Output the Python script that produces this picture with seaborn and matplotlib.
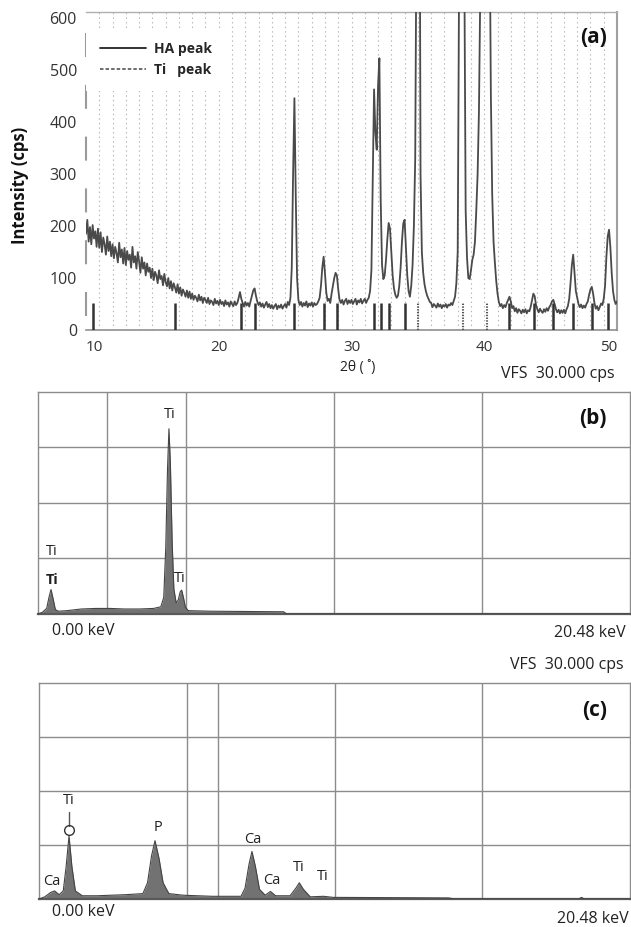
import numpy as np
import pandas as pd
import seaborn as sns
import matplotlib.pyplot as plt
from matplotlib.lines import Line2D

# ---------------- (a) XRD pattern, 2theta = 10.0 ... 50.0 deg, 0.1 deg steps
two_theta = np.round(np.arange(100, 501) / 10, 1)
intensity = [
    185, 212, 170, 198, 165, 202, 176, 190, 160, 195,   # 10
    158, 188, 150, 178, 165, 145, 180, 152, 170, 142,   # 11
    165, 138, 160, 148, 130, 168, 140, 155, 128, 158,   # 12
    125, 152, 135, 145, 120, 160, 130, 142, 118, 150,   # 13
    132, 110, 140, 118, 130, 105, 128, 112, 120, 100,   # 14
    118, 96, 112, 105, 90, 115, 98, 104, 86, 108,       # 15
    92, 84, 100, 80, 94, 76, 90, 82, 72, 88,            # 16
    70, 82, 66, 78, 72, 64, 76, 62, 74, 60,             # 17
    70, 58, 66, 62, 55, 68, 57, 64, 52, 62,             # 18
    58, 52, 62, 50, 57, 54, 48, 60, 51, 56,             # 19
    48, 58, 50, 54, 46, 57, 49, 53, 45, 55,             # 20
    50, 46, 55, 48, 52, 62, 73, 60, 52, 45,             # 21
    54, 47, 52, 45, 56, 66, 76, 80, 66, 55,             # 22
    48, 53, 45, 51, 43, 49, 54, 44, 50, 42,             # 23
    48, 41, 46, 50, 40, 47, 43, 49, 41, 46,             # 24
    50, 43, 54, 48, 62, 120, 300, 446, 260, 100,        # 25
    58, 48, 54, 45, 52, 47, 55, 44, 51, 47,             # 26
    53, 45, 52, 48, 50, 55, 62, 85, 120, 141,           # 27
    110, 72, 56, 60, 52, 70, 85, 100, 110, 105,         # 28
    78, 58, 52, 58, 49, 56, 60, 50, 57, 52,             # 29
    58, 50, 55, 60, 49, 57, 53, 60, 51, 56,             # 30
    60, 52, 58, 62, 75, 115, 290, 463, 380, 347,        # 31
    470, 523, 250, 125, 98, 105, 135, 175, 206, 195,    # 32
    150, 105, 80, 68, 62, 66, 85, 120, 170, 205,        # 33
    212, 160, 105, 75, 64, 85, 125, 200, 330, 800,      # 34
    1500, 1200, 300, 150, 110, 88, 75, 66, 60, 54,      # 35
    52, 44, 50, 47, 43, 51, 45, 49, 42, 48,             # 36
    45, 50, 43, 49, 47, 52, 48, 56, 64, 90,             # 37
    150, 650, 1300, 1500, 1200, 700, 230, 140, 100, 98,  # 38
    115, 135, 145, 170, 230, 300, 420, 650, 1000, 1300,  # 39
    1500, 1550, 1450, 1200, 800, 450, 260, 170, 130, 95,  # 40
    70, 54, 46, 50, 42, 48, 44, 52, 58, 64,             # 41
    55, 42, 46, 36, 42, 33, 40, 37, 32, 39,             # 42
    34, 40, 32, 38, 36, 45, 58, 70, 65, 48,             # 43
    40, 34, 41, 36, 33, 40, 35, 42, 37, 44,             # 44
    48, 55, 58, 50, 40, 34, 39, 32, 38, 33,             # 45
    39, 32, 40, 46, 60, 90, 125, 145, 110, 75,          # 46
    62, 50, 44, 49, 42, 47, 43, 50, 55, 68,             # 47
    78, 83, 70, 52, 41, 46, 38, 44, 51, 48,             # 48
    60, 85, 140, 180, 193, 160, 110, 75, 58, 50,        # 49
    55,                                                 # 50
]
ha_peaks = [10.5, 16.7, 21.65, 22.7, 25.7, 27.9, 28.9, 31.7, 32.2, 32.85,
            34.0, 41.9, 43.75, 45.2, 46.7, 48.1, 49.3]
ti_peaks = [35.0, 38.4, 40.2]
stick_height = 52
xrd_ticks = [10, 20, 30, 40, 50]
cps_ticks = [0, 100, 200, 300, 400, 500, 600]

# ---------------- (b) EDS of the Ti substrate, 0 ... 20.48 keV
b_energy = [0.0, 0.15, 0.3, 0.38, 0.45, 0.52, 0.6, 0.7, 1.0, 1.5,
            2.0, 2.5, 3.0, 3.5, 4.0, 4.25, 4.35, 4.42, 4.48, 4.53,
            4.58, 4.64, 4.7, 4.78, 4.85, 4.92, 4.97, 5.03, 5.1, 5.2,
            6.0, 8.5, 8.6, 20.48]
b_counts = [0.0, 0.03, 0.1, 0.3, 0.44, 0.28, 0.08, 0.05, 0.06, 0.09,
            0.1, 0.1, 0.09, 0.09, 0.1, 0.13, 0.3, 1.2, 2.6, 3.33,
            2.7, 1.3, 0.45, 0.2, 0.25, 0.4, 0.43, 0.3, 0.12, 0.06,
            0.05, 0.04, 0.0, 0.0]
b_labels = [("Ti", 0.48, 1.12, "normal"), ("Ti", 0.48, 0.61, "bold"),
            ("Ti", 4.57, 3.59, "normal"), ("Ti", 4.91, 0.63, "normal")]

# ---------------- (c) EDS of the HA coating
c_energy = [0.0, 0.1, 0.2, 0.27, 0.35, 0.42, 0.47, 0.52, 0.57, 0.63,
            0.75, 1.0, 1.5, 1.8, 1.88, 1.95, 2.01, 2.08, 2.15, 2.25,
            2.5, 3.0, 3.5, 3.57, 3.64, 3.69, 3.75, 3.82, 3.92, 4.01,
            4.1, 4.35, 4.45, 4.51, 4.58, 4.7, 4.93, 5.1, 7.1, 7.2,
            9.35, 9.4, 9.45, 10.24]
c_counts = [0.0, 0.04, 0.12, 0.15, 0.08, 0.15, 0.6, 1.17, 0.6, 0.15,
            0.06, 0.06, 0.08, 0.1, 0.3, 0.8, 1.08, 0.75, 0.3, 0.1,
            0.07, 0.05, 0.05, 0.2, 0.65, 0.88, 0.6, 0.18, 0.07, 0.14,
            0.06, 0.06, 0.2, 0.3, 0.18, 0.04, 0.05, 0.03, 0.02, 0.0,
            0.0, 0.03, 0.0, 0.0]
c_labels = [("Ca", 0.22, 0.32), ("Ti", 0.52, 1.82), ("P", 2.06, 1.32),
            ("Ca", 3.70, 1.11), ("Ca", 4.03, 0.34), ("Ti", 4.50, 0.58),
            ("Ti", 4.92, 0.41)]

sns.set_theme(style="white")
plt.rcParams["font.family"] = ["Open Sans", "DejaVu Sans"]
plt.rcParams["lines.scale_dashes"] = False

W, H = 631, 927
fig = plt.figure(figsize=(W / 100, H / 100), dpi=100)


def box(l, t, r, b):
    return [l / W, 1 - b / H, (r - l) / W, (b - t) / H]


def pos(x, y):
    return x / W, 1 - y / H


# ---------------- panel (a)
ax_a = fig.add_axes(box(86, 12, 617, 330))
for g in range(11, 50):
    ax_a.axvline(g, color="#b5b5b5", lw=0.8, ls=(0, (1, 2.3)), zorder=0)

xrd = pd.DataFrame({"two_theta": two_theta, "intensity": intensity})
sns.lineplot(data=xrd, x="two_theta", y="intensity", ax=ax_a,
             color="#4a4a4a", lw=1.3, zorder=3)
ax_a.vlines(ha_peaks, 0, stick_height, colors="#333333", lw=1.8, zorder=4)
ax_a.vlines(ti_peaks, 0, stick_height, colors="#555555", lw=1.5,
            linestyles=[(0, (1, 1))], zorder=4)

ax_a.set_xlim(10, 50)
ax_a.set_ylim(0, 612)
ax_a.set_xlabel("")
ax_a.set_ylabel("")
ax_a.set_yticks(cps_ticks)
ax_a.set_xticks(xrd_ticks)
xlabels = ax_a.set_xticklabels([str(t) for t in xrd_ticks])
xlabels[0].set_ha("left")
xlabels[-1].set_ha("right")
ax_a.tick_params(axis="y", length=2, width=1.5, color="#9a9a9a",
                 labelsize=11.5, labelcolor="#333333", pad=4.5)
ax_a.tick_params(axis="x", length=0, labelsize=11, labelcolor="#333333", pad=7)

ax_a.spines["top"].set_color("#b0b0b0")
ax_a.spines["top"].set_linewidth(1.0)
ax_a.spines["right"].set_color("#a0a0a0")
ax_a.spines["right"].set_linewidth(1.5)
ax_a.spines["bottom"].set_color("#909090")
ax_a.spines["bottom"].set_linewidth(1.2)
ax_a.spines["left"].set_color("#9a9a9a")
ax_a.spines["left"].set_linewidth(1.5)
ax_a.spines["left"].set_linestyle((26.5, (15.8, 21.5)))

handles = [Line2D([], [], color="#222222", lw=1.3),
           Line2D([], [], color="#444444", lw=1.1, ls=(0, (2.5, 1.5)))]
leg = ax_a.legend(handles, ["HA peak", "Ti   peak"], loc="upper left",
                  bbox_to_anchor=(0.0, 0.95), borderaxespad=0,
                  frameon=True, facecolor="white", edgecolor="none",
                  framealpha=1, fancybox=False,
                  prop={"weight": "bold", "size": 10},
                  handlelength=3.3, handletextpad=0.6, borderpad=1.0,
                  labelspacing=0.5)
leg.set_zorder(5)

ax_a.text(0.981, 0.921, "(a)", transform=ax_a.transAxes, ha="right",
          va="center", fontsize=15, fontweight="bold", color="#111111")
fig.text(*pos(20, 185), "Intensity (cps)", rotation=90, ha="center",
         va="center", fontsize=12, fontweight="bold", color="#111111")
fig.text(*pos(358, 367), "2θ ( ˚)", ha="center", va="center",
         fontsize=10, color="#222222")
fig.text(*pos(615, 374), "VFS  30.000 cps", ha="right", va="center",
         fontsize=11.5, color="#222222")


# ---------------- EDS panels
def eds_panel(ax, energy, counts, emax, extra_line):
    spec = pd.DataFrame({"energy": energy, "counts": counts})
    ax.fill_between(spec["energy"], 0, spec["counts"], color="#727272",
                    lw=0, zorder=2)
    sns.lineplot(data=spec, x="energy", y="counts", ax=ax, color="#444444",
                 lw=0.8, zorder=3)
    for k in (1, 2, 3):
        ax.axvline(emax * k / 4, color="#8c8c8c", lw=1.0, zorder=1)
        ax.axhline(k, color="#8c8c8c", lw=1.0, zorder=1)
    ax.axvline(extra_line, color="#8c8c8c", lw=1.0, zorder=1)
    ax.set_xlim(0, emax)
    ax.set_ylim(0, 4)
    ax.set_xticks([])
    ax.set_yticks([])
    ax.set_xlabel("")
    ax.set_ylabel("")
    for s in ("top", "left", "right"):
        ax.spines[s].set_color("#8c8c8c")
        ax.spines[s].set_linewidth(1.0)
    ax.spines["bottom"].set_color("#5a5a5a")
    ax.spines["bottom"].set_linewidth(1.6)


ax_b = fig.add_axes(box(38, 391.5, 630, 614))
eds_panel(ax_b, b_energy, b_counts, 20.48, 2.38)
for txt, x, y, w in b_labels:
    ax_b.text(x, y, txt, ha="center", va="center", fontsize=10.5,
              fontweight=w, color="#222222", zorder=5)
fig.text(*pos(607, 418), "(b)", ha="right", va="center", fontsize=15,
         fontweight="bold", color="#111111")
fig.text(*pos(52, 631), "0.00 keV", ha="left", va="center", fontsize=11.5,
         color="#222222")
fig.text(*pos(626, 633), "20.48 keV", ha="right", va="center",
         fontsize=11.5, color="#222222")

ax_c = fig.add_axes(box(39, 683, 630, 899))
eds_panel(ax_c, c_energy, c_counts, 10.24, 3.1)
for txt, x, y in c_labels:
    ax_c.text(x, y, txt, ha="center", va="center", fontsize=10.5,
              color="#222222", zorder=5)
ax_c.plot([0.52, 0.52], [1.36, 1.62], color="#555555", lw=1.0, zorder=5)
ax_c.plot([0.52], [1.27], marker="o", mfc="none", mec="#333333", ms=7,
          mew=1.0, zorder=5)
fig.text(*pos(624, 665), "VFS  30.000 cps", ha="right", va="center",
         fontsize=11.5, color="#222222")
fig.text(*pos(607, 711), "(c)", ha="right", va="center", fontsize=15,
         fontweight="bold", color="#111111")
fig.text(*pos(52, 912), "0.00 keV", ha="left", va="center", fontsize=11.5,
         color="#222222")
fig.text(*pos(629, 919), "20.48 keV", ha="right", va="center",
         fontsize=11.5, color="#222222")

fig.savefig("out.png", dpi=100)
